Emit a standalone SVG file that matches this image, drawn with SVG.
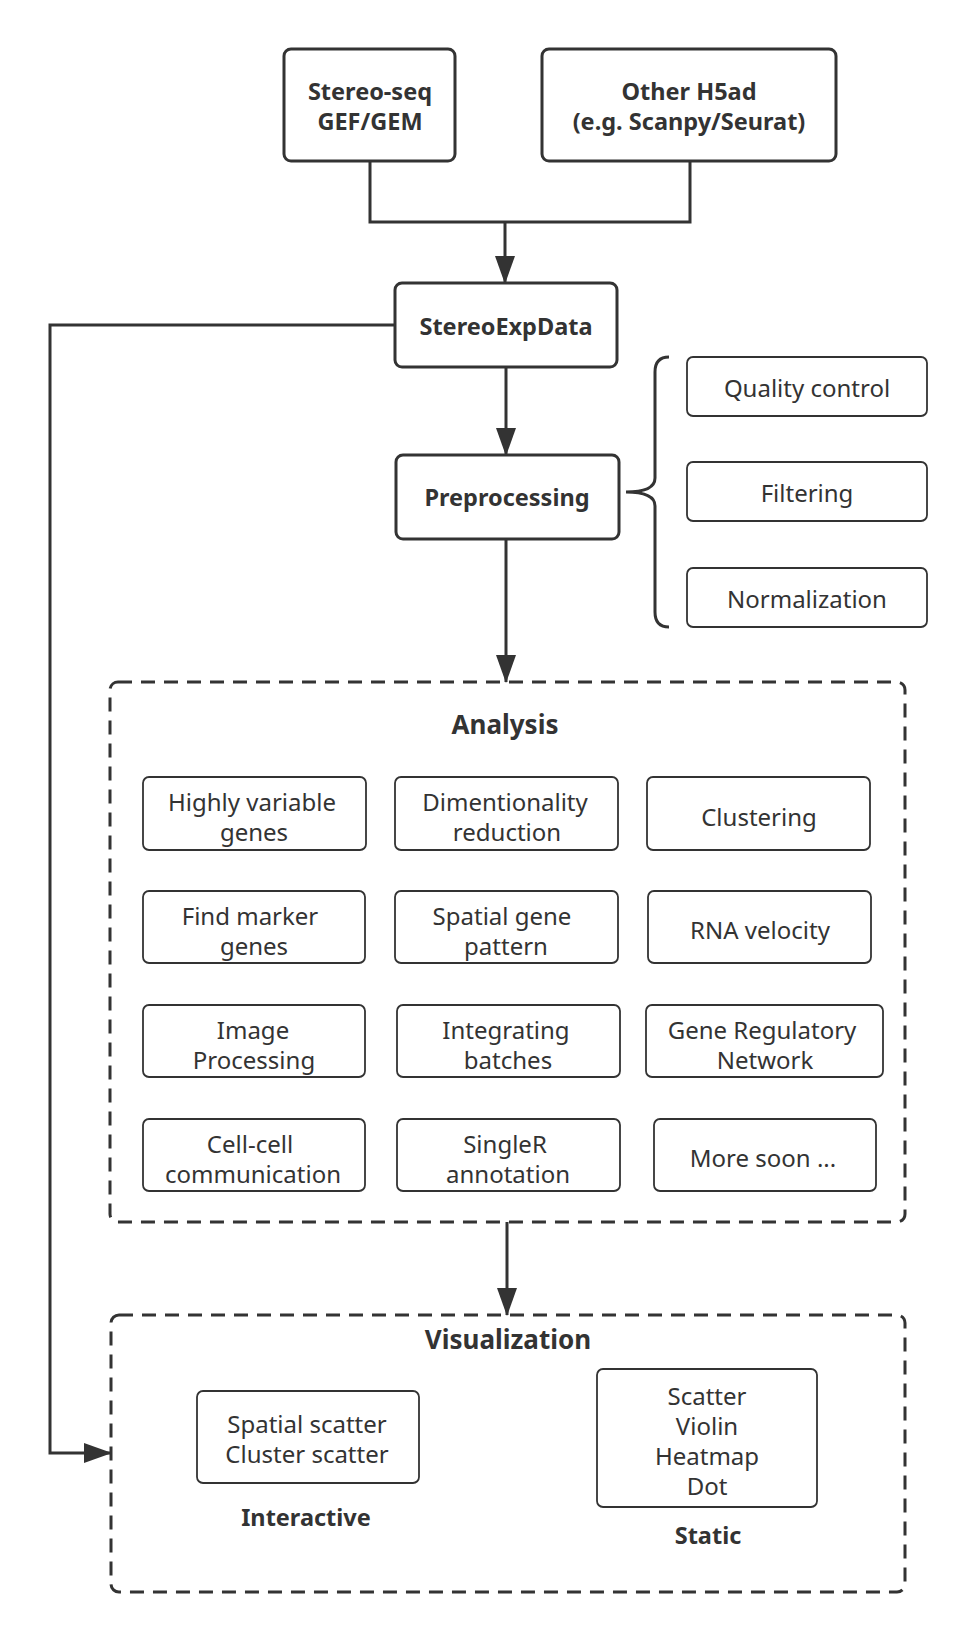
<svg xmlns="http://www.w3.org/2000/svg" width="975" height="1641" viewBox="0 0 975 1641">
<defs>
<marker id="arr" markerUnits="userSpaceOnUse" markerWidth="28" markerHeight="20" refX="27" refY="10" orient="auto">
<path d="M0,0 L28,10 L0,20 z" fill="#333"/>
</marker>
<style>
.main{fill:#fff;stroke:#333;stroke-width:3}
.sub{fill:#fff;stroke:#333;stroke-width:1.8}
.dash{fill:none;stroke:#333;stroke-width:3;stroke-dasharray:14 9}
.con{fill:none;stroke:#333;stroke-width:3}
text{font-family:"Noto Sans","Open Sans","Liberation Sans",sans-serif;fill:#333;text-anchor:middle;dominant-baseline:central}
.b{font-weight:bold;font-size:23.5px}
.r{font-size:24px}
.t{font-weight:bold;font-size:26px}
</style>
</defs>
<rect width="975" height="1641" fill="#fff"/>
<g id="connectors">
<polyline class="con" points="370,161 370,222 690,222 690,161"/>
<line class="con" x1="505" y1="222" x2="505" y2="283" marker-end="url(#arr)"/>
<line class="con" x1="506" y1="367" x2="506" y2="455" marker-end="url(#arr)"/>
<line class="con" x1="506" y1="539" x2="506" y2="682" marker-end="url(#arr)"/>
<line class="con" x1="507" y1="1222" x2="507" y2="1315" marker-end="url(#arr)"/>
<polyline class="con" points="395,325 50,325 50,1453 111,1453" marker-end="url(#arr)"/>
<path class="con" d="M669,357 Q655,357 655,372 L655,478 Q655,492 626,492 Q655,492 655,506 L655,612 Q655,627 669,627"/>
</g>
<g id="stereo-seq">
<rect class="main" x="284" y="49" width="171" height="112" rx="7"/>
<text class="b" x="370" y="91">Stereo-seq</text>
<text class="b" x="370" y="121">GEF/GEM</text>
</g>
<g id="other-h5ad">
<rect class="main" x="542" y="49" width="294" height="112" rx="7"/>
<text class="b" x="689" y="91">Other H5ad</text>
<text class="b" x="689" y="121">(e.g. Scanpy/Seurat)</text>
</g>
<g id="stereoexpdata">
<rect class="main" x="395" y="283" width="222" height="84" rx="7"/>
<text class="b" x="506" y="326">StereoExpData</text>
</g>
<g id="preprocessing">
<rect class="main" x="396" y="455" width="223" height="84" rx="7"/>
<text class="b" x="507" y="497">Preprocessing</text>
</g>
<g id="quality-control">
<rect class="sub" x="687" y="357" width="240" height="59" rx="6"/>
<text class="r" x="807" y="387">Quality control</text>
</g>
<g id="filtering">
<rect class="sub" x="687" y="462" width="240" height="59" rx="6"/>
<text class="r" x="807" y="492">Filtering</text>
</g>
<g id="normalization">
<rect class="sub" x="687" y="568" width="240" height="59" rx="6"/>
<text class="r" x="807" y="598">Normalization</text>
</g>
<g id="analysis">
<rect class="dash" x="110" y="682" width="795" height="540" rx="8"/>
<text class="t" x="505" y="724">Analysis</text>
</g>
<g id="hvg">
<rect class="sub" x="143" y="777" width="223" height="73" rx="6"/>
<text class="r" x="252" y="801">Highly variable</text>
<text class="r" x="254" y="831">genes</text>
</g>
<g id="dimred">
<rect class="sub" x="395" y="777" width="223" height="73" rx="6"/>
<text class="r" x="505" y="801">Dimentionality</text>
<text class="r" x="507" y="831">reduction</text>
</g>
<g id="clustering">
<rect class="sub" x="647" y="777" width="223" height="73" rx="6"/>
<text class="r" x="759" y="816">Clustering</text>
</g>
<g id="find-marker">
<rect class="sub" x="143" y="891" width="222" height="72" rx="6"/>
<text class="r" x="250" y="915">Find marker</text>
<text class="r" x="254" y="945">genes</text>
</g>
<g id="spatial-gene">
<rect class="sub" x="395" y="891" width="223" height="72" rx="6"/>
<text class="r" x="502" y="915">Spatial gene</text>
<text class="r" x="506" y="945">pattern</text>
</g>
<g id="rna-velocity">
<rect class="sub" x="648" y="891" width="223" height="72" rx="6"/>
<text class="r" x="760" y="929">RNA velocity</text>
</g>
<g id="image-processing">
<rect class="sub" x="143" y="1005" width="222" height="72" rx="6"/>
<text class="r" x="253" y="1029">Image</text>
<text class="r" x="254" y="1059">Processing</text>
</g>
<g id="integrating">
<rect class="sub" x="397" y="1005" width="223" height="72" rx="6"/>
<text class="r" x="506" y="1029">Integrating</text>
<text class="r" x="508" y="1059">batches</text>
</g>
<g id="grn">
<rect class="sub" x="646" y="1005" width="237" height="72" rx="6"/>
<text class="r" x="762" y="1029">Gene Regulatory</text>
<text class="r" x="765" y="1059">Network</text>
</g>
<g id="cell-cell">
<rect class="sub" x="143" y="1119" width="222" height="72" rx="6"/>
<text class="r" x="250" y="1143">Cell-cell</text>
<text class="r" x="253" y="1173">communication</text>
</g>
<g id="singler">
<rect class="sub" x="397" y="1119" width="223" height="72" rx="6"/>
<text class="r" x="505" y="1143">SingleR</text>
<text class="r" x="508" y="1173">annotation</text>
</g>
<g id="more-soon">
<rect class="sub" x="654" y="1119" width="222" height="72" rx="6"/>
<text class="r" x="763" y="1157">More soon ...</text>
</g>
<g id="visualization">
<rect class="dash" x="111" y="1315" width="794" height="277" rx="8"/>
<text class="t" x="508" y="1339">Visualization</text>
</g>
<g id="interactive">
<rect class="sub" x="197" y="1391" width="222" height="92" rx="6"/>
<text class="r" x="307" y="1423">Spatial scatter</text>
<text class="r" x="307" y="1453">Cluster scatter</text>
<text class="b" x="306" y="1517">Interactive</text>
</g>
<g id="static">
<rect class="sub" x="597" y="1369" width="220" height="138" rx="6"/>
<text class="r" x="707" y="1395">Scatter</text>
<text class="r" x="707" y="1425">Violin</text>
<text class="r" x="707" y="1455">Heatmap</text>
<text class="r" x="707" y="1485">Dot</text>
<text class="b" x="708" y="1535">Static</text>
</g>
</svg>
